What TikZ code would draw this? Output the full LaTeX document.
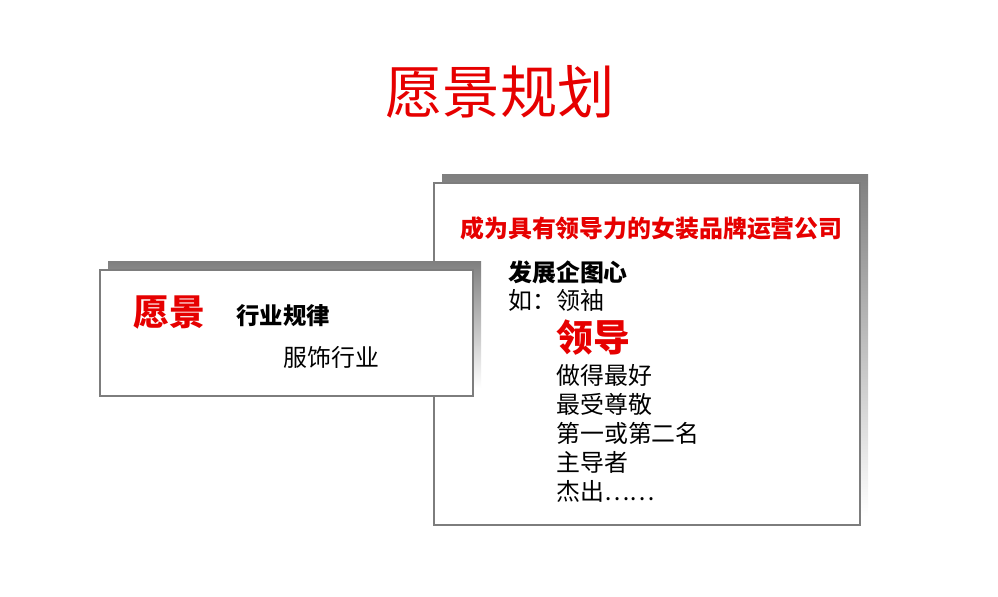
\documentclass[tikz,border=0pt]{standalone}
\usepackage{fontspec}
\newfontfamily\cjk{Noto Sans CJK SC}
\usetikzlibrary{positioning}
\definecolor{vred}{RGB}{230,0,0}
\definecolor{shade}{RGB}{150,150,150}
\definecolor{rim}{RGB}{125,125,125}
\begin{document}
\begin{tikzpicture}
           [x=0.02cm,y=-0.02cm,
            card/.style = {draw=rim,line width=1.6pt,fill=white},
            txt/.style = {anchor=west,inner sep=0pt,font=\cjk\fontsize{13.6}{16}\selectfont}]
            \useasboundingbox (0,0) rectangle (998,597);
            \node[font=\cjk\fontsize{32.6}{36}\selectfont,text=vred] (title) at (500,92) {愿景规划};

            % right card
            \fill[shade] (442,175) rectangle (868,517);
            \draw[card] (434,183) rectangle (860,525);
            \node[txt,font=\cjk\bfseries\fontsize{13.6}{16}\selectfont,text=vred] (goal) at (460,228) {成为具有领导力的女装品牌运营公司};
            \node[txt,font=\cjk\bfseries\fontsize{13.6}{16}\selectfont] (ambition) at (508,272) {发展企图心};
            \node[txt] (eg) at (508,300) {如：领袖};
            \node[txt,font=\cjk\bfseries\fontsize{21}{24}\selectfont,text=vred] (lead) at (556,338) {领导};
            \node[txt] (l1) at (556,375) {做得最好};
            \node[txt] (l2) at (556,404) {最受尊敬};
            \node[txt] (l3) at (556,433) {第一或第二名};
            \node[txt] (l4) at (556,462) {主导者};
            \node[txt] (l5) at (556,491) {杰出……};

            % left card
            \fill[shade] (108,262) rectangle (481,388);
            \draw[card] (100,270) rectangle (473,396);
            \node[txt,font=\cjk\bfseries\fontsize{20.4}{24}\selectfont,text=vred] (vision) at (133,313) {愿景};
            \node[txt,font=\cjk\bfseries\fontsize{13.3}{16}\selectfont] (rule) at (236,316) {行业规律};
            \node[txt] (trade) at (283,357) {服饰行业};
\end{tikzpicture}
\end{document}
